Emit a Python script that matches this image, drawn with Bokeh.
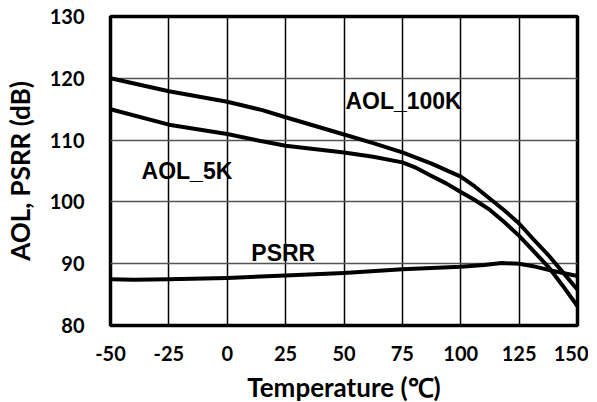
from bokeh.plotting import figure
from bokeh.models import Range1d, FixedTicker, ColumnDataSource, CustomJSTickFormatter
from bokeh.core.properties import value
from bokeh.embed import file_html
from bokeh.resources import INLINE

# ---- data ----
temp_100k = [-50, -25, 0, 15, 25, 50, 62.5, 75, 87.5, 100, 106, 112.5, 118.75, 125, 131, 137.5, 143.75, 150]
aol_100k = [120.0, 117.9, 116.2, 114.85, 113.7, 110.9, 109.5, 108.0, 106.2, 104.1, 102.5, 100.5, 98.6, 96.5, 94.0, 91.4, 88.6, 85.8]

temp_5k = [-50, -25, 0, 15, 25, 50, 62.5, 75, 81, 87.5, 93.75, 100, 106, 112.5, 118.75, 125, 131, 137.5, 143.75, 150]
aol_5k = [115.0, 112.5, 111.0, 109.8, 109.1, 108.0, 107.3, 106.4, 105.5, 104.2, 103.0, 101.6, 100.3, 98.7, 96.7, 94.5, 92.1, 89.5, 86.4, 83.1]

temp_psrr = [-50, -40, -25, 0, 25, 50, 75, 100, 110, 117.5, 125, 131, 137.5, 143.75, 150]
psrr = [87.5, 87.4, 87.5, 87.7, 88.1, 88.5, 89.1, 89.5, 89.8, 90.1, 90.0, 89.6, 89.0, 88.5, 88.0]

x_ticks = [-50, -25, 0, 25, 50, 75, 100, 125, 150]
y_ticks = [80, 90, 100, 110, 120, 130]

label_text = ["AOL_100K", "AOL_5K", "PSRR"]
label_x = [50.6, -36.7, 10.3]
label_y = [116.25, 104.95, 91.75]

p = figure(width=581, height=397, output_backend="svg", toolbar_location=None,
           x_range=Range1d(-50, 150), y_range=Range1d(80, 130),
           frame_width=467, frame_height=309,
           min_border_left=103, min_border_right=11, min_border_top=16, min_border_bottom=72)

p.background_fill_color = "white"
p.border_fill_color = "white"
p.outline_line_color = "black"
p.outline_line_width = 3.5

p.xaxis.ticker = FixedTicker(ticks=x_ticks)
p.yaxis.ticker = FixedTicker(ticks=y_ticks)
fmt = CustomJSTickFormatter(code="return tick.toString();")
p.xaxis.formatter = fmt
p.yaxis.formatter = fmt
for ax in (p.xaxis, p.yaxis):
    ax.axis_line_color = None
    ax.major_tick_line_color = None
    ax.minor_tick_line_color = None
    ax.major_label_text_font = "Lato"
    ax.major_label_text_font_style = "bold"
    ax.major_label_text_font_size = "20px"
    ax.major_label_text_color = "black"
    ax.axis_label_text_font = "Lato"
    ax.axis_label_text_font_style = "bold"
    ax.axis_label_text_font_size = "26px"
    ax.axis_label_text_color = "black"

p.xaxis.axis_label = "Temperature (℃)"
p.yaxis.axis_label = "AOL, PSRR (dB)"
p.xaxis.major_label_standoff = 14
p.yaxis.major_label_standoff = 20
p.xaxis.axis_label_standoff = 7
p.yaxis.axis_label_standoff = 11

p.xgrid.grid_line_color = "black"
p.xgrid.grid_line_width = 1.5
p.ygrid.grid_line_color = "#555555"
p.ygrid.grid_line_width = 1.5

p.line(temp_100k, aol_100k, line_color="black", line_width=4, line_join="round")
p.line(temp_5k, aol_5k, line_color="black", line_width=4, line_join="round")
p.line(temp_psrr, psrr, line_color="black", line_width=4, line_join="round")

src = ColumnDataSource(dict(x=label_x, y=label_y, t=label_text))
p.text(x="x", y="y", text="t", source=src, text_font=value("Liberation Sans"),
       text_font_style="bold", text_font_size="23px", text_color="black",
       text_baseline="alphabetic", text_align="left")

open("out.html", "w").write(file_html(p, INLINE))
